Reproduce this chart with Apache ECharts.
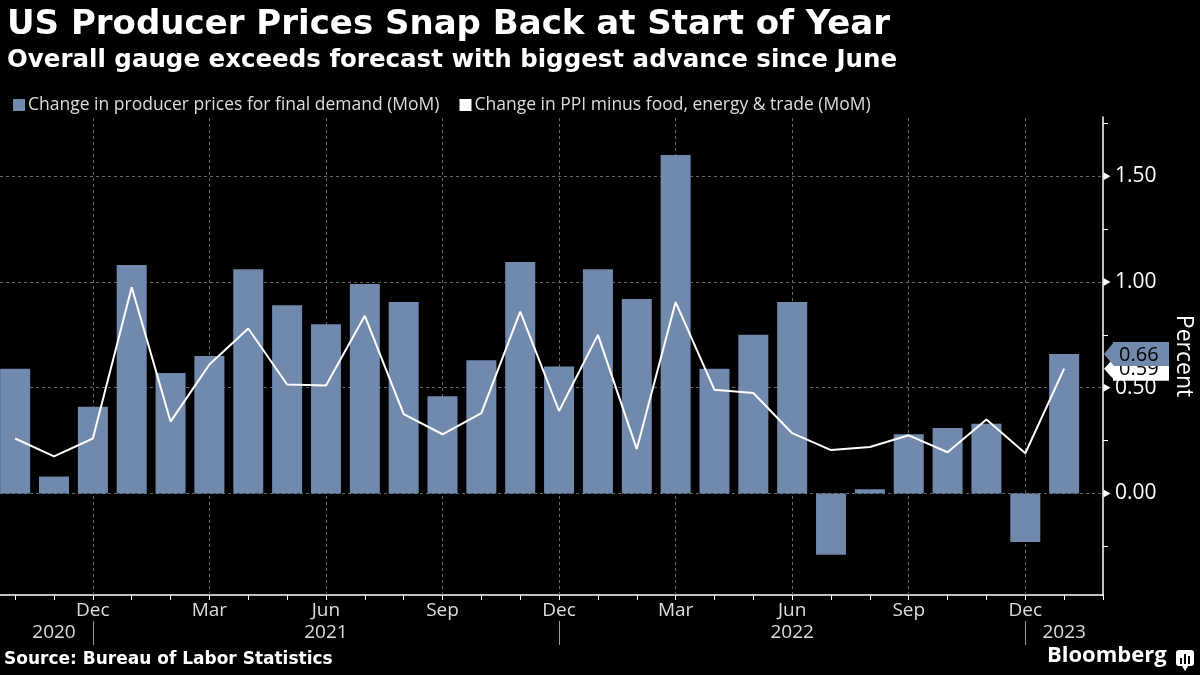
<!DOCTYPE html>
<html>
<head>
<meta charset="utf-8">
<script src="https://cdn.jsdelivr.net/npm/echarts@6/dist/echarts.min.js"></script>
<style>
html,body{margin:0;padding:0;background:#000;}
#chart{width:1200px;height:675px;}
</style>
</head>
<body>
<div id="chart"></div>
<script>
// ---- data ----
const months = ['Oct','Nov','Dec','Jan','Feb','Mar','Apr','May','Jun','Jul','Aug','Sep',
                'Oct','Nov','Dec','Jan','Feb','Mar','Apr','May','Jun','Jul','Aug','Sep',
                'Oct','Nov','Dec','Jan'];
const ppiFinalDemand = [0.59,0.08,0.41,1.08,0.57,0.65,1.06,0.89,0.80,0.99,0.905,0.46,
                        0.63,1.095,0.60,1.06,0.92,1.60,0.59,0.75,0.905,-0.29,0.02,0.28,
                        0.31,0.33,-0.23,0.66];
const ppiCore = [0.26,0.175,0.26,0.975,0.34,0.61,0.78,0.515,0.51,0.84,0.375,0.28,
                 0.38,0.86,0.39,0.75,0.21,0.905,0.49,0.475,0.285,0.205,0.22,0.275,
                 0.195,0.35,0.19,0.59];
const labeledMonths = ['Dec','Mar','Jun','Sep'];
const yearLabels = ['2020','2021','2022','2023'];
const yearLabelPos = [1, 8, 20, 27];
const yTickLabels = [0, 0.5, 1.0, 1.5];
const yMinorTicks = [-0.25,0,0.25,0.5,0.75,1.0,1.25,1.5,1.75];
const seriesNames = ['Change in producer prices for final demand (MoM)',
                     'Change in PPI minus food, energy & trade (MoM)'];

// ---- derived ----
const monthIdx = months.map((m,i)=>i).concat([months.length]);
const labelIdx = months.map((m,i)=>labeledMonths.indexOf(m)>=0 ? i : -1).filter(i=>i>=0);
const yearSepIdx = months.map((m,i)=>m==='Dec' ? i : -1).filter(i=>i>=0);
const X_MIN = -0.39, X_MAX = months.length;
const Y_MIN = -0.48, Y_MAX = 1.78;
const BAR = '#7289ae';
const FONT = 'Open Sans';
const lastBar = ppiFinalDemand[ppiFinalDemand.length-1];
const lastLine = ppiCore[ppiCore.length-1];

const chart = echarts.init(document.getElementById('chart'));
const gridLineStyle = {color:'#666', type:[3,3], width:1};

function tagAxis(val, bg){
  return {
    type:'value', min:Y_MIN, max:Y_MAX, position:'right',
    axisLine:{show:false, onZero:false}, axisTick:{show:false}, splitLine:{show:false},
    axisLabel:{
      customValues:[val], margin:10, hideOverlap:false,
      formatter:v=>'{t|'+v.toFixed(2)+'}',
      rich:{ t:{backgroundColor:bg, color:'#000', fontSize:20, padding:[2,6,0,6], fontFamily:FONT, width:44, height:22} }
    }
  };
}

const option = {
  backgroundColor:'#000',
  animation:false,
  textStyle:{fontFamily:FONT},
  title:{
    text:'US Producer Prices Snap Back at Start of Year',
    subtext:'Overall gauge exceeds forecast with biggest advance since June',
    left:2, top:3, itemGap:6,
    textStyle:{color:'#fff', fontSize:34, fontWeight:'bold', fontFamily:'DejaVu Sans'},
    subtextStyle:{color:'#fff', fontSize:24.5, fontWeight:'bold', fontFamily:'DejaVu Sans'}
  },
  legend:{
    left:8, top:91, icon:'rect', itemWidth:12, itemHeight:12, itemGap:20, itemStyle:{borderWidth:0},
    textStyle:{color:'#ddd', fontSize:17.5, fontFamily:FONT, padding:[0,0,0,-2]},
    data:[{name:seriesNames[0], itemStyle:{color:BAR}},
          {name:seriesNames[1], itemStyle:{color:'#fff'}}]
  },
  grid:{left:0, right:97, top:117, bottom:80, outerBoundsMode:'none', containLabel:false},
  xAxis:[{
    type:'value', min:X_MIN, max:X_MAX, position:'bottom',
    axisLine:{show:true, onZero:false, lineStyle:{color:'#fff', width:1.5}},
    axisTick:{show:true, customValues:monthIdx, length:5, lineStyle:{color:'#fff', width:1}},
    axisLabel:{customValues:labelIdx, formatter:v=>months[Math.round(v)], color:'#ddd', fontSize:19, margin:6, fontFamily:FONT},
    splitLine:{show:false}
  },{
    type:'value', min:X_MIN, max:X_MAX, position:'bottom', offset:26,
    axisLine:{show:false, onZero:false},
    axisTick:{show:true, customValues:yearSepIdx, length:24, lineStyle:{color:'#999', width:1}},
    axisLabel:{customValues:yearLabelPos, formatter:v=>yearLabels[yearLabelPos.indexOf(Math.round(v))], color:'#ddd', fontSize:19, margin:2, fontFamily:FONT},
    splitLine:{show:false}
  }],
  yAxis:[{
    type:'value', min:Y_MIN, max:Y_MAX, position:'right',
    axisLine:{show:true, onZero:false, lineStyle:{color:'#fff', width:1.5}},
    axisTick:{show:true, customValues:yMinorTicks, length:5, lineStyle:{color:'#fff', width:1}},
    axisLabel:{customValues:yTickLabels, formatter:v=>v.toFixed(2), color:'#fff', fontSize:21, margin:12, fontFamily:FONT},
    splitLine:{show:false},
    name:'Percent', nameLocation:'middle', nameRotate:-90, nameGap:81,
    nameTextStyle:{color:'#fff', fontSize:23, fontFamily:FONT, verticalAlign:'middle', align:'center'}
  },
  tagAxis(lastLine, '#fff'),
  tagAxis(lastBar, BAR)
  ],
  series:[{
    name:seriesNames[0], type:'bar', barWidth:30, clip:false, z:2,
    itemStyle:{color:BAR},
    data:ppiFinalDemand.map((v,i)=>[i,v]),
    markLine:{
      silent:true, symbol:'none', z:1, label:{show:false},
      lineStyle:gridLineStyle,
      data:yTickLabels.map(v=>({yAxis:v})).concat(labelIdx.map(i=>({xAxis:i})))
    },
    markPoint:{
      silent:true, z:6, label:{show:false},
      data:yTickLabels.map(v=>({coord:[X_MAX, v], symbol:'triangle', symbolSize:[8,7], symbolRotate:-90, symbolOffset:[4,0], itemStyle:{color:'#fff'}}))
        .concat([{coord:[X_MAX,lastLine], symbol:'triangle', symbolSize:[22,10], symbolRotate:90, symbolOffset:[6,0], itemStyle:{color:'#fff'}}])
    }
  },{
    name:seriesNames[1], type:'line', symbol:'none', z:3,
    lineStyle:{color:'#fff', width:2}, itemStyle:{color:'#fff'},
    data:ppiCore.map((v,i)=>[i,v]),
    markPoint:{
      silent:true, z:7, label:{show:false},
      data:[{coord:[X_MAX,lastBar], symbol:'triangle', symbolSize:[24,10], symbolRotate:90, symbolOffset:[6,0], itemStyle:{color:BAR}}]
    }
  }],
  graphic:[
    {type:'text', left:4, top:651, style:{text:'Source: Bureau of Labor Statistics', fill:'#fff', font:'bold 17px "DejaVu Sans"'}},
    {type:'text', left:1047, top:645, style:{text:'Bloomberg', fill:'#fff', font:'bold 22px "Open Sans"'}},
    {type:'rect', left:1176, top:650, shape:{width:18, height:16, r:3}, style:{fill:'#fff'}},
    {type:'polygon', shape:{points:[[1182,666],[1185,671],[1188,666]]}, style:{fill:'#fff'}},
    {type:'rect', left:1180, top:658, shape:{width:2, height:6}, style:{fill:'#000'}},
    {type:'rect', left:1184, top:654, shape:{width:2, height:10}, style:{fill:'#000'}},
    {type:'rect', left:1188, top:656, shape:{width:2, height:8}, style:{fill:'#000'}}
  ]
};
chart.setOption(option);
</script>
</body>
</html>
